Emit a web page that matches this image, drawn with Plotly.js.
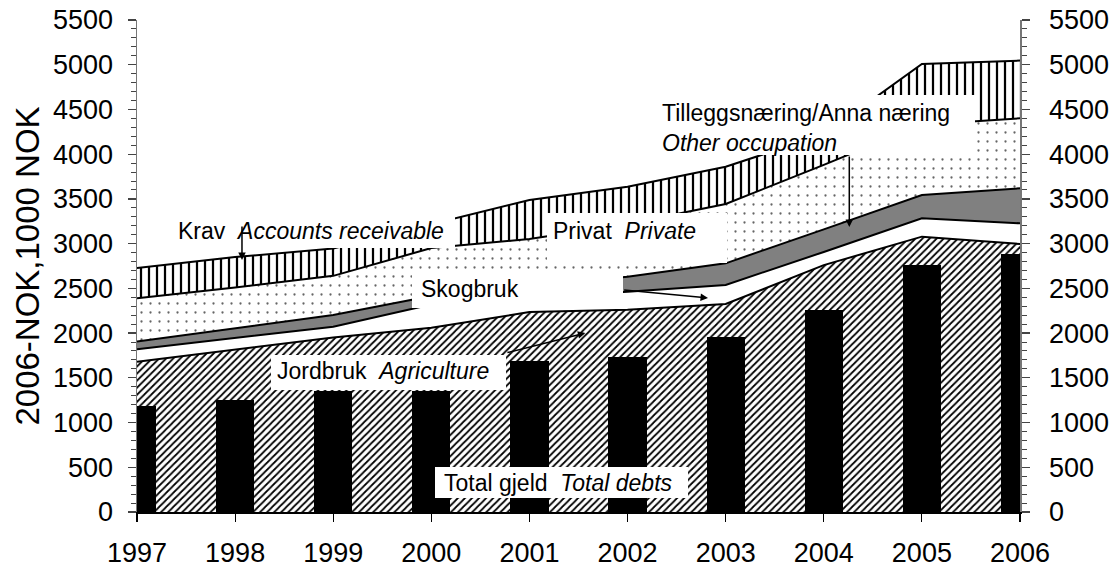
<!DOCTYPE html>
<html><head><meta charset="utf-8">
<script src="https://cdn.plot.ly/plotly-3.0.1.min.js"></script>
<style>html,body{margin:0;padding:0;background:#fff}#chart{width:1112px;height:568px}</style>
</head><body><div id="chart"></div>
<script>
// ---- data ----
const years      = [1997, 1998, 1999, 2000, 2001, 2002, 2003, 2004, 2005, 2006];
const yearLabels = ['1997','1998','1999','2000','2001','2002','2003','2004','2005','2006'];
const jordbruk   = [1680, 1815, 1950, 2060, 2235, 2260, 2325, 2760, 3078, 2996]; // Agriculture
const skogbruk   = [ 140,  135,  122,  260,  165,  203,  213,  147,  205,  231]; // Forestry
const tillegg    = [  85,  107,  130,   95,  130,  168,  242,  253,  261,  392]; // Other occupation
const privat     = [ 484,  453,  438,  535,  522,  589,  663,  720,  786,  782]; // Private
const krav       = [ 339,  340,  305,  270,  436,  417,  417,  340,  679,  645]; // Accounts receivable
const totalGjeld = [1180, 1248, 1353, 1353, 1685, 1733, 1958, 2258, 2761, 2884]; // Total debts
const yTicks     = [0, 500, 1000, 1500, 2000, 2500, 3000, 3500, 4000, 4500, 5000, 5500];

// ---- helpers for placing boxes (pixel -> paper) ----
const PL = 137, PR = 1020, PT = 20, PB = 512;
const X = px => (px - PL) / (PR - PL);
const Y = py => (PB - py) / (PB - PT);

function area(name, y, fillcolor, pattern) {
  const t = {
    type: 'scatter', mode: 'lines', name: name, x: years, y: y,
    stackgroup: 'one', line: {color: '#000', width: 2},
    fillcolor: fillcolor, hoverinfo: 'skip'
  };
  if (pattern) t.fillpattern = pattern;
  return t;
}

const traces = [
  area('Jordbruk', jordbruk, '#fff',
       {shape: '/', size: 5, solidity: 0.35, fgcolor: '#000', bgcolor: '#fff', fillmode: 'replace'}),
  area('Skogbruk', skogbruk, '#fff'),
  area('Tilleggsnæring', tillegg, '#808080'),
  area('Privat', privat, '#fff',
       {shape: '.', size: 9, solidity: 0.05, fgcolor: '#666', bgcolor: '#fff', fillmode: 'replace'}),
  area('Krav', krav, '#fff',
       {shape: '|', size: 8, solidity: 0.28, fgcolor: '#000', bgcolor: '#fff', fillmode: 'replace'}),
  {type: 'bar', name: 'Total gjeld', x: years, y: totalGjeld, yaxis: 'y2', width: 0.39,
   marker: {color: '#000', line: {width: 0}}, hoverinfo: 'skip'}
];

const yCommon = {
  range: [0, 5500], tickvals: yTicks, ticks: 'outside', ticklen: 8, tickwidth: 1.2,
  tickcolor: '#444', showline: true, linecolor: '#777', linewidth: 1.5,
  showgrid: false, zeroline: false, tickfont: {size: 27, color: '#000'},
  ticklabelstandoff: 9,
  minor: {tickmode: 'linear', tick0: 0, dtick: 100, ticks: 'outside', ticklen: 5, tickcolor: '#444', tickwidth: 1}
};

function box(x0, y0, x1, y1) {
  return {type: 'rect', xref: 'paper', yref: 'paper', x0: X(x0), x1: X(x1), y0: Y(y1), y1: Y(y0),
          fillcolor: '#fff', line: {width: 0}, layer: 'above'};
}
function label(text, cx, cy, opts) {
  return Object.assign({xref: 'paper', yref: 'paper', x: X(cx), y: Y(cy), text: text, showarrow: false,
          xanchor: 'center', yanchor: 'middle', font: {size: 23, color: '#000'}}, opts || {});
}
function arrow(x0, y0, x1, y1) {
  return {xref: 'x', yref: 'y', axref: 'x', ayref: 'y', x: x1, y: y1, ax: x0, ay: y0, text: '',
          showarrow: true, arrowhead: 2, arrowsize: 1, arrowwidth: 1.5, arrowcolor: '#000',
          standoff: 0, startstandoff: 0};
}

const layout = {
  width: 1112, height: 568,
  margin: {l: PL, r: 1112 - PR, t: PT, b: 568 - PB},
  paper_bgcolor: '#fff', plot_bgcolor: '#fff', showlegend: false,
  font: {family: '"Liberation Sans", Arial, sans-serif', color: '#000'},
  xaxis: {range: [1997, 2006], tickvals: years, ticktext: yearLabels, ticks: 'outside', ticklen: 8,
          tickcolor: '#000', tickwidth: 1.2, showline: true, linecolor: '#000', linewidth: 1.5,
          showgrid: false, zeroline: false, tickfont: {size: 27, color: '#000'}, ticklabelstandoff: 8},
  yaxis: Object.assign({}, yCommon, {title: {text: '2006-NOK,1000 NOK', font: {size: 33, color: '#000'}, standoff: 3}}),
  yaxis2: Object.assign({}, yCommon, {overlaying: 'y', side: 'right', ticklabelstandoff: 14}),
  bargap: 0,
  shapes: [
    box(172, 215, 455, 248),
    box(547, 213, 727, 263),
    box(412, 275, 623, 308),
    box(271, 355, 506, 390),
    box(655, 95, 975, 155),
    box(435, 467, 688, 498)
  ],
  annotations: [
    label('Krav  <i>Accounts receivable</i>', 311, 231),
    label('Privat  <i>Private</i>', 624, 231),
    label('Skogbruk', 470, 289),
    label('Jordbruk  <i>Agriculture</i>', 383, 371),
    label('Tilleggsnæring/Anna næring<br><i>Other occupation</i>', 660, 128, {xanchor: 'left', align: 'left'}),
    label('Total gjeld  <i>Total debts</i>', 558, 483),
    arrow(1998.07, 3209, 1998.07, 2817),
    arrow(2004.26, 3991, 2004.26, 3186),
    arrow(2001.95, 2482, 2002.82, 2393),
    arrow(2000.76, 1778, 2001.57, 2001)
  ]
};

Plotly.newPlot('chart', traces, layout, {displayModeBar: false, staticPlot: true});
</script>
</body></html>
